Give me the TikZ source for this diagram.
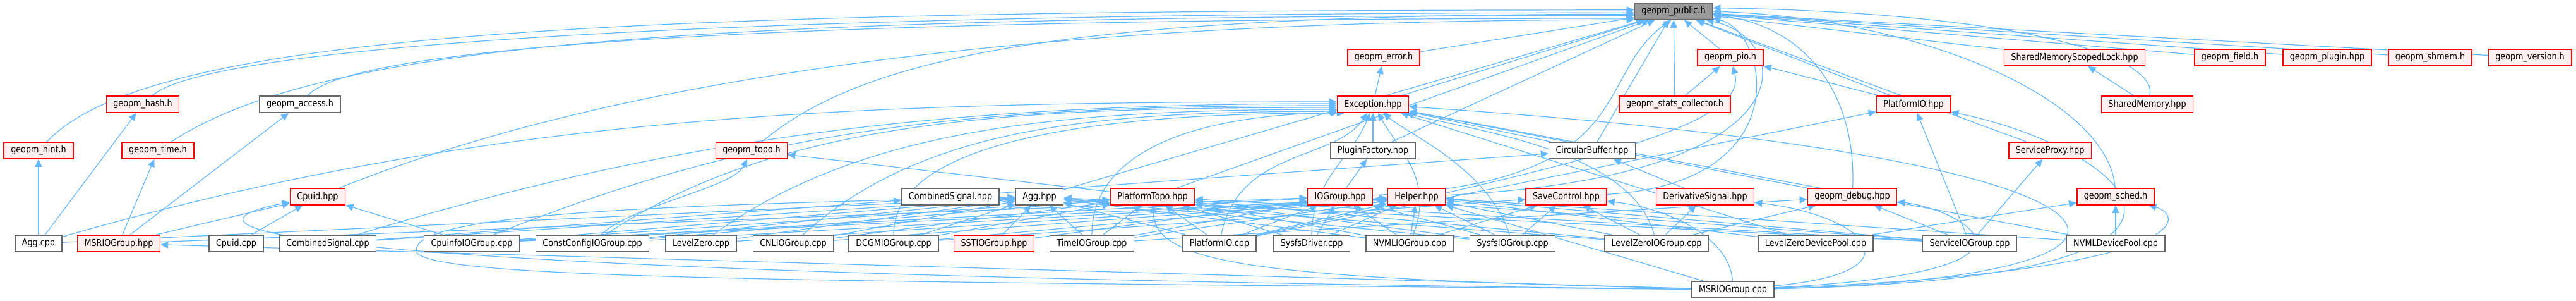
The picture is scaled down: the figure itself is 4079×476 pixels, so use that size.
\documentclass[tikz,border=0pt]{standalone}
\usepackage{fontspec}
\usepackage{tikz}
\usetikzlibrary{arrows.meta,backgrounds}
\newfontfamily\graphfont{DejaVu Sans}[FakeStretch=0.85]
\definecolor{edgeblue}{HTML}{63B8FF}
\definecolor{boxgray}{HTML}{666666}
\definecolor{truncfill}{HTML}{FFF0F0}
\definecolor{rootgray}{HTML}{999999}

\begin{document}
\begin{tikzpicture}[
    x=1pt, y=-1pt,
    every node/.style={draw=boxgray, fill=white, line width=1.6pt, minimum height=26pt, inner xsep=11pt, inner ysep=0pt, font=\graphfont\fontsize{15}{18}\selectfont},
    trunc/.style={draw=red, fill=truncfill},
    root/.style={draw=boxgray, fill=rootgray},
    arrow/.style={-{Triangle[length=12pt,width=11pt]}, draw=edgeblue, line width=1.2pt}
]
\node (pub) [root] at (2650,18) {geopm\_public.h};

\node (err) [trunc] at (2191,91) {geopm\_error.h};
\node (pio) [trunc] at (2740,91) {geopm\_pio.h};
\node (smlock) [trunc] at (3285,91) {SharedMemoryScopedLock.hpp};
\node (field) [trunc] at (3531,91) {geopm\_field.h};
\node (plugin) [trunc] at (3685,91) {geopm\_plugin.hpp};
\node (shmem) [trunc] at (3848,91) {geopm\_shmem.h};
\node (version) [trunc] at (4006,91) {geopm\_version.h};

\node (hash) [trunc] at (226,165) {geopm\_hash.h};
\node (access) at (475,165) {geopm\_access.h};
\node (exc) [trunc] at (2174,165) {Exception.hpp};
\node (stats) [trunc] at (2652,165) {geopm\_stats\_collector.h};
\node (pioh) [trunc] at (3030,165) {PlatformIO.hpp};
\node (shm) [trunc] at (3400,165) {SharedMemory.hpp};

\node (hint) [trunc] at (61,238) {geopm\_hint.h};
\node (time) [trunc] at (250,238) {geopm\_time.h};
\node (topo) [trunc] at (1190,238) {geopm\_topo.h};
\node (plugfac) at (2174,238) {PluginFactory.hpp};
\node (circbuf) at (2521,238) {CircularBuffer.hpp};
\node (proxy) [trunc] at (3246,238) {ServiceProxy.hpp};

\node (cpuidh) [trunc] at (503,311) {Cpuid.hpp};
\node (combh) at (1505,311) {CombinedSignal.hpp};
\node (aggh) at (1646,311) {Agg.hpp};
\node (ptopo) [trunc] at (1825,311) {PlatformTopo.hpp};
\node (iogroup) [trunc] at (2122,311) {IOGroup.hpp};
\node (helper) [trunc] at (2243,311) {Helper.hpp};
\node (savectl) [trunc] at (2480,311) {SaveControl.hpp};
\node (deriv) [trunc] at (2700,311) {DerivativeSignal.hpp};
\node (debug) [trunc] at (2933,311) {geopm\_debug.hpp};
\node (sched) [trunc] at (3350,311) {geopm\_sched.h};

\node (aggcpp) at (61,385) {Agg.cpp};
\node (msrh) [trunc] at (188,385) {MSRIOGroup.hpp};
\node (cpuidcpp) at (374,385) {Cpuid.cpp};
\node (combcpp) at (519,385) {CombinedSignal.cpp};
\node (cpuinfo) at (747,385) {CpuinfoIOGroup.cpp};
\node (constcfg) at (938,385) {ConstConfigIOGroup.cpp};
\node (lz) at (1110,385) {LevelZero.cpp};
\node (cnl) at (1256,385) {CNLIOGroup.cpp};
\node (dcgm) at (1415,385) {DCGMIOGroup.cpp};
\node (sst) [trunc] at (1574,385) {SSTIOGroup.hpp};
\node (timeio) at (1729,385) {TimeIOGroup.cpp};
\node (piocpp) at (1931,385) {PlatformIO.cpp};
\node (sysdrv) at (2077,385) {SysfsDriver.cpp};
\node (nvmlio) at (2232,385) {NVMLIOGroup.cpp};
\node (sysio) at (2395,385) {SysfsIOGroup.cpp};
\node (lzio) at (2623,385) {LevelZeroIOGroup.cpp};
\node (lzpool) at (2875,385) {LevelZeroDevicePool.cpp};
\node (svcio) at (3119,385) {ServiceIOGroup.cpp};
\node (nvmlpool) at (3350,385) {NVMLDevicePool.cpp};

\node (msrcpp) at (2744,458) {MSRIOGroup.cpp};

\begin{scope}[on background layer]
\path[use as bounding box, fill=white] (0,0) rectangle (4079,476);

\draw[arrow] (err) -- (pub);
\draw[arrow] (pio) -- (pub);
\draw[arrow] (smlock) -- (pub);
\draw[arrow] (field) -- (pub);
\draw[arrow] (plugin) -- (pub);
\draw[arrow] (shmem) -- (pub);
\draw[arrow] (version) -- (pub);
\draw[arrow] (exc) -- (pub);
\draw[arrow] (stats) -- (pub);
\draw[arrow] (pioh) -- (pub);
\draw[arrow] (proxy) -- (pub);
\draw[arrow] (plugfac) -- (pub);
\draw[arrow] (circbuf) -- (pub);
\draw[arrow] (aggh) -- (pub);
\draw[arrow] (ptopo) -- (pub);
\draw[arrow] (hint) .. controls +(180,-190) and +(-1600,0) .. (pub.178);
\draw[arrow] (hash) .. controls +(100,-90) and +(-1500,0) .. (pub.182);
\draw[arrow] (time) .. controls +(260,-170) and +(-1500,0) .. (pub.186);
\draw[arrow] (access) .. controls +(80,-90) and +(-1400,0) .. (pub.190);
\draw[arrow] (topo) .. controls +(180,-150) and +(-900,0) .. (pub.184);
\draw[arrow] (cpuidh) .. controls +(500,-200) and +(-900,0) .. (pub.192);
\draw[arrow] (iogroup) .. controls (2600,290) and (2520,120) .. (pub.255);
\draw[arrow] (helper) .. controls (2880,280) and (2840,60) .. (pub.-15);
\draw[arrow] (savectl) .. controls (2850,290) and (2800,50) .. (pub.-10);
\draw[arrow] (debug) .. controls (2940,150) and (2860,40) .. (pub.-5);
\draw[arrow] (sched) .. controls (3340,160) and (3050,30) .. (pub.east);
\draw[arrow] (shm) .. controls (3420,90) and (3200,20) .. (pub.5);

\draw[arrow] (exc) -- (err);
\draw[arrow] (stats) -- (pio);
\draw[arrow] (pioh) -- (pio);
\draw[arrow] (shm) -- (smlock);
\draw[arrow] (plugfac) -- (exc);
\draw[arrow] (circbuf) -- (exc);
\draw[arrow] (iogroup) -- (plugfac);
\draw[arrow] (combh) -- (circbuf);
\draw[arrow] (deriv) -- (circbuf);
\draw[arrow] (ptopo) -- (topo);
\draw[arrow] (debug) -- (exc);

\draw[arrow] (aggcpp) -- (hint);
\draw[arrow] (aggcpp) -- (hash);
\draw[arrow] (aggcpp) .. controls +(700,-200) and +(-800,0) .. (exc.176);
\draw[arrow] (aggcpp) -- (aggh);
\draw[arrow] (msrh) -- (time);
\draw[arrow] (msrh) -- (access);
\draw[arrow] (msrh) -- (cpuidh);
\draw[arrow] (msrh) -- (iogroup);
\draw[arrow] (cpuidcpp) -- (cpuidh);
\draw[arrow] (combcpp) -- (combh);
\draw[arrow] (combcpp) .. controls +(500,-150) and +(-700,0) .. (exc.179);
\draw[arrow] (combcpp) -- (aggh);
\draw[arrow] (cpuinfo) -- (cpuidh);
\draw[arrow] (cpuinfo) .. controls +(450,-180) and +(-600,0) .. (exc.182);
\draw[arrow] (cpuinfo) -- (aggh);
\draw[arrow] (cpuinfo) -- (ptopo);
\draw[arrow] (cpuinfo) -- (helper);
\draw[arrow] (cpuinfo) -- (iogroup);
\draw[arrow] (constcfg) .. controls +(60,-60) and +(-30,60) .. (topo);
\draw[arrow] (constcfg) .. controls +(300,-200) and +(-500,0) .. (exc.185);
\draw[arrow] (constcfg) -- (aggh);
\draw[arrow] (constcfg) -- (helper);
\draw[arrow] (constcfg) -- (ptopo);
\draw[arrow] (lz) .. controls +(250,-180) and +(-450,0) .. (exc.188);
\draw[arrow] (lz) -- (helper);
\draw[arrow] (lz) -- (aggh);
\draw[arrow] (cnl) .. controls +(200,-180) and +(-400,0) .. (exc.191);
\draw[arrow] (cnl) -- (aggh);
\draw[arrow] (cnl) -- (helper);
\draw[arrow] (cnl) -- (ptopo);
\draw[arrow] (dcgm) .. controls +(0,-180) and +(-300,0) .. (exc.194);
\draw[arrow] (dcgm) -- (aggh);
\draw[arrow] (dcgm) -- (helper);
\draw[arrow] (dcgm) -- (ptopo);
\draw[arrow] (dcgm) -- (savectl);
\draw[arrow] (sst) -- (aggh);
\draw[arrow] (sst) -- (iogroup);
\draw[arrow] (timeio) -- (aggh);
\draw[arrow] (timeio) -- (ptopo);
\draw[arrow] (timeio) .. controls +(0,-160) and +(-200,0) .. (exc.197);
\draw[arrow] (timeio) -- (helper);
\draw[arrow] (timeio) -- (iogroup);
\draw[arrow] (timeio) -- (debug);
\draw[arrow] (piocpp) -- (ptopo);
\draw[arrow] (piocpp) -- (aggh);
\draw[arrow] (piocpp) -- (iogroup);
\draw[arrow] (piocpp) -- (helper);
\draw[arrow] (piocpp) .. controls +(30,-150) and +(-60,90) .. (exc);
\draw[arrow] (piocpp) .. controls (2500,260) and (2770,200) .. (pio);
\draw[arrow] (piocpp) -- (pioh);
\draw[arrow] (sysdrv) .. controls +(0,-100) and +(-30,80) .. (exc);
\draw[arrow] (sysdrv) -- (iogroup);
\draw[arrow] (sysdrv) -- (helper);
\draw[arrow] (sysdrv) -- (ptopo);
\draw[arrow] (nvmlio) -- (iogroup);
\draw[arrow] (nvmlio) -- (helper);
\draw[arrow] (nvmlio) .. controls +(40,-100) and +(40,70) .. (exc);
\draw[arrow] (nvmlio) -- (savectl);
\draw[arrow] (nvmlio) -- (aggh);
\draw[arrow] (nvmlio) -- (ptopo);
\draw[arrow] (sysio) .. controls +(-40,-120) and +(60,50) .. (exc);
\draw[arrow] (sysio) -- (helper);
\draw[arrow] (sysio) -- (savectl);
\draw[arrow] (sysio) -- (aggh);
\draw[arrow] (sysio) -- (ptopo);
\draw[arrow] (sysio) -- (iogroup);
\draw[arrow] (lzio) .. controls +(-40,-150) and +(150,40) .. (exc);
\draw[arrow] (lzio) -- (savectl);
\draw[arrow] (lzio) -- (deriv);
\draw[arrow] (lzio) -- (helper);
\draw[arrow] (lzio) -- (aggh);
\draw[arrow] (lzio) -- (ptopo);
\draw[arrow] (lzio) -- (debug);
\draw[arrow] (lzpool) -- (exc);
\draw[arrow] (lzpool) -- (helper);
\draw[arrow] (lzpool) -- (sched);
\draw[arrow] (svcio) -- (pioh);
\draw[arrow] (svcio) -- (proxy);
\draw[arrow] (svcio) -- (debug);
\draw[arrow] (svcio) -- (helper);
\draw[arrow] (svcio) -- (aggh);
\draw[arrow] (svcio) -- (ptopo);
\draw[arrow] (svcio) -- (iogroup);
\draw[arrow] (nvmlpool) -- (sched);
\draw[arrow] (nvmlpool) -- (exc);
\draw[arrow] (nvmlpool) -- (helper);
\draw[arrow] (msrcpp) -- (msrh);
\draw[arrow] (msrcpp) .. controls (400,432) and (250,360) .. (cpuidh);
\draw[arrow] (msrcpp) .. controls (1200,445) and (700,440) .. (660,400) .. controls (640,340) and (1000,325) .. (aggh);
\draw[arrow] (msrcpp) .. controls (2000,440) and (1830,420) .. (ptopo);
\draw[arrow] (msrcpp) -- (helper);
\draw[arrow] (msrcpp) .. controls (2740,380) and (2650,330) .. (savectl);
\draw[arrow] (msrcpp) .. controls (3050,430) and (2950,340) .. (deriv);
\draw[arrow] (msrcpp) .. controls (3300,430) and (3100,330) .. (debug);
\draw[arrow] (msrcpp) .. controls (3480,430) and (3460,340) .. (sched);
\draw[arrow] (msrcpp) .. controls (3650,440) and (3350,230) .. (pioh);
\draw[arrow] (msrcpp) .. controls (3520,440) and (3480,250) .. (exc);
\end{scope}
\end{tikzpicture}
\end{document}
